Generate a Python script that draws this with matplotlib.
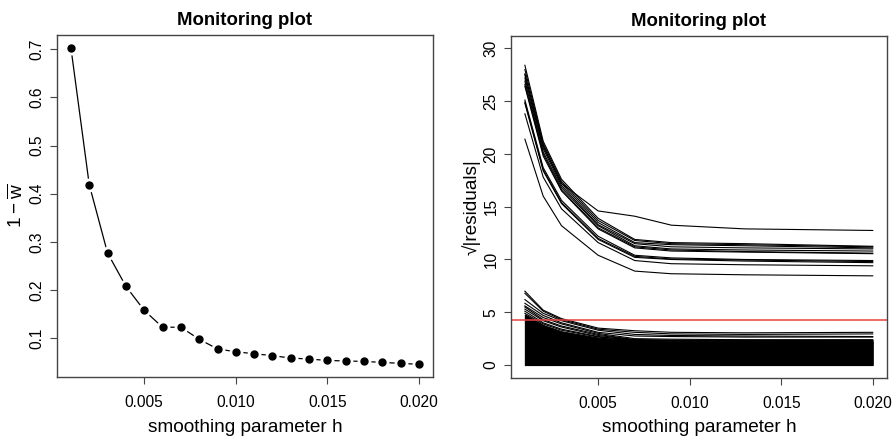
import matplotlib
matplotlib.use("Agg")
import matplotlib.pyplot as plt

plt.rcParams["font.family"] = ["Liberation Sans", "DejaVu Sans"]
plt.rcParams["mathtext.fontset"] = "custom"
plt.rcParams["mathtext.rm"] = "Liberation Sans"

# left panel: 1 - mean weight vs h
h_left = [0.001, 0.002, 0.003, 0.004, 0.005, 0.006, 0.007, 0.008, 0.009, 0.010,
          0.011, 0.012, 0.013, 0.014, 0.015, 0.016, 0.017, 0.018, 0.019, 0.020]
one_minus_w = [0.703, 0.419, 0.277, 0.208, 0.158, 0.123, 0.123, 0.098, 0.078, 0.072,
               0.068, 0.064, 0.059, 0.057, 0.054, 0.053, 0.052, 0.050, 0.048, 0.046]

# right panel: sqrt|residuals| vs h (knots)
h_right = [0.001, 0.002, 0.003, 0.005, 0.007, 0.009, 0.013, 0.020]
upper_lines = [
    [27.5, 20.8, 17.2, 14.6, 14.1, 13.25, 12.9, 12.75],
    [28.4, 21.2, 17.6, 13.9, 11.9, 11.6, 11.5, 11.25],
    [28.0, 21.0, 17.4, 13.7, 11.8, 11.5, 11.4, 11.2],
    [27.6, 20.7, 17.2, 13.5, 11.6, 11.4, 11.3, 11.1],
    [27.2, 20.5, 17.0, 13.3, 11.5, 11.2, 11.1, 11.0],
    [26.9, 20.2, 16.8, 13.2, 11.3, 11.0, 10.9, 10.8],
    [26.6, 20.0, 16.6, 13.0, 11.2, 10.9, 10.75, 10.6],
    [26.4, 19.8, 16.5, 12.9, 11.1, 10.8, 10.7, 10.55],
    [25.1, 18.7, 15.6, 12.2, 10.4, 10.15, 10.0, 9.9],
    [24.9, 18.5, 15.4, 12.0, 10.3, 10.05, 9.95, 9.8],
    [24.8, 18.4, 15.3, 11.9, 10.2, 10.0, 9.85, 9.7],
    [23.8, 17.8, 14.8, 11.6, 9.9, 9.6, 9.5, 9.4],
    [21.4, 16.0, 13.2, 10.4, 8.9, 8.65, 8.55, 8.45],
]
lower_lines = [
    [7.0, 5.2, 4.4, 3.5, 3.25, 3.1, 3.05, 3.1],
    [6.8, 5.1, 4.3, 3.4, 3.1, 2.95, 2.9, 2.95],
    [6.2, 4.9, 4.2, 3.3, 2.9, 2.8, 2.75, 2.7],
    [5.85, 4.7, 4.0, 3.1, 2.75, 2.7, 2.65, 2.65],
    [5.6, 4.5, 3.9, 3.0, 2.5, 2.45, 2.4, 2.4],
    [5.5, 4.3, 3.7, 2.9, 2.4, 2.35, 2.35, 2.35],
    [5.3, 4.2, 3.6, 2.8, 2.4, 2.35, 2.3, 2.3],
    [5.1, 4.0, 3.4, 2.7, 2.35, 2.3, 2.3, 2.3],
    [4.9, 3.9, 3.3, 2.65, 2.35, 2.3, 2.3, 2.25],
]
mass_top = [4.8, 3.8, 3.2, 2.6, 2.35, 2.3, 2.3, 2.25]
mass_bottom = [0, 0, 0, 0, 0, 0, 0, 0]
cutoff = 4.23

fig = plt.figure(figsize=(8.93, 4.36), dpi=100)
ax1 = fig.add_axes([0.0638, 0.1353, 0.4211, 0.7844])
ax2 = fig.add_axes([0.5722, 0.1337, 0.4207, 0.7844])

edge = "#444444"
for ax in (ax1, ax2):
    for s in ax.spines.values():
        s.set_color(edge)
        s.set_linewidth(1.0)
    ax.tick_params(direction="out", length=5, width=0.8, color=edge,
                   labelsize=11.2, pad=4)
    ax.tick_params(axis="x", pad=8)
    ax.set_xlim(0.00024, 0.02076)
    ax.set_xticks([0.005, 0.010, 0.015, 0.020])
    ax.set_xticklabels(["0.005", "0.010", "0.015", "0.020"])
    ax.set_title("Monitoring plot", fontsize=13.4, fontweight="bold", pad=7)
    ax.set_xlabel("smoothing parameter h", fontsize=13.7)
    ax.xaxis.set_label_coords(0.5, -0.122)

# left
ax1.plot(h_left, one_minus_w, color="black", lw=0.9)
ax1.plot(h_left, one_minus_w, "o", color="white", ms=9)
ax1.plot(h_left, one_minus_w, "o", color="black", ms=5)
ax1.set_ylim(0.0197, 0.7293)
ax1.set_yticks([0.1, 0.2, 0.3, 0.4, 0.5, 0.6, 0.7])
ax1.set_yticklabels(["0.1", "0.2", "0.3", "0.4", "0.5", "0.6", "0.7"],
                    rotation=90, va="center")
ax1.set_ylabel(r"$1-\overline{\mathrm{w}}$", fontsize=13.7)
ax1.yaxis.set_label_coords(-0.082, 0.5)

# right
ax2.fill_between(h_right, mass_bottom, mass_top, color="black", lw=0.8)
for ys in lower_lines:
    ax2.plot(h_right, ys, color="black", lw=0.8)
for ys in upper_lines:
    ax2.plot(h_right, ys, color="black", lw=0.8)
ax2.axhline(cutoff, color="#e8413f", lw=1.1)
ax2.set_ylim(-1.2, 31.2)
ax2.set_yticks([0, 5, 10, 15, 20, 25, 30])
ax2.set_yticklabels(["0", "5", "10", "15", "20", "25", "30"], rotation=90, va="center")
ax2.set_ylabel("\u221a|residuals|", fontsize=13.7)
ax2.yaxis.set_label_coords(-0.08, 0.5)

fig.savefig("out.png", dpi=100)
